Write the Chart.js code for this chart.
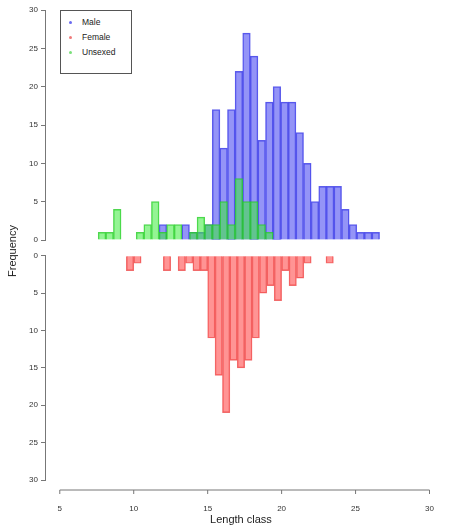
<!DOCTYPE html>
<html>
<head>
<meta charset="utf-8">
<script src="https://cdn.jsdelivr.net/npm/chart.js@4"></script>
<style>
  body { margin: 0; background: #fff; font-family: "Liberation Sans", Arial, sans-serif; }
  #wrap { position: relative; width: 450px; height: 531px; }
  #top { position: absolute; left: 0; top: 0; }
  #bot { position: absolute; left: 0; top: 248px; }
  #legend { position: absolute; left: 60px; top: 10px; width: 72px; height: 64px; border: 1px solid #555;
            font-size: 8.5px; color: #222; box-sizing: border-box; padding: 4px 0 0 8px; line-height: 15px; background: #fff; }
  #legend span { display: inline-block; width: 3px; height: 3px; border-radius: 2px; margin-right: 10px; vertical-align: middle; }
  #ylab { position: absolute; left: -18px; top: 245px; transform: rotate(-90deg); font-size: 11px; color: #222; width: 60px; text-align: center; }
</style>
</head>
<body>
<div id="wrap">
  <canvas id="top" width="450" height="248"></canvas>
  <canvas id="bot" width="450" height="283"></canvas>
  <div id="legend">
    <div><span style="background:#6a6af0"></span>Male</div>
    <div><span style="background:#f07a7a"></span>Female</div>
    <div><span style="background:#7ae07a"></span>Unsexed</div>
  </div>
  <div id="ylab">Frequency</div>
</div>
<script>
// Clases de longitud (centros de intervalos de 0.5, desde 7.5 hasta 26)
const clases = [];
for (let i = 0; i < 37; i++) clases.push(7.75 + 0.5 * i);

const machos   = [0,0,0,0,0,0,0,0,2,0,0,2,1,1,2,17,12,17,22,27,24,13,18,20,18,18,14,10,5,7,7,7,4,2,1,1,1];
const hembras  = [0,0,0,0,2,1,0,0,0,2,0,2,1,2,2,11,16,21,14,15,14,11,5,4,6,2,4,3,1,0,0,1,0,0,0,0,0];
const sinSexo  = [1,1,4,0,0,1,2,5,1,2,2,0,1,3,2,2,5,2,8,5,5,2,1,0,0,0,0,0,0,0,0,0,0,0,0,0,0];
const ticksX   = [5, 10, 15, 20, 25, 30];
const ticksY   = [0, 5, 10, 15, 20, 25, 30];

function serie(valores) {
    return clases.map((x, i) => ({ x: x, y: valores[i] }));
}

function dataset(label, valores, fondo, borde, orden) {
    return {
        label: label,
        data: serie(valores),
        backgroundColor: fondo,
        borderColor: borde,
        borderWidth: 0.8,
        barPercentage: 1,
        categoryPercentage: 1,
        grouped: false,
        order: orden
    };
}

const colorEje = '#777';
const fuente = { family: 'Liberation Sans', size: 8 };

function ejeY(reverse) {
    return {
        min: 0, max: 30, reverse: reverse,
        afterBuildTicks: s => { s.ticks = ticksY.map(v => ({ value: v })); },
        afterFit: s => { s.width = 45; },
        grid: { display: true, drawOnChartArea: false, drawTicks: true, tickLength: 4, tickColor: colorEje },
        border: { color: colorEje },
        ticks: { color: '#333', font: fuente, padding: 3 }
    };
}

function ejeX(visible) {
    return {
        type: 'linear', min: 4, max: 30.5, display: visible, offset: false,
        afterBuildTicks: s => { s.ticks = ticksX.map(v => ({ value: v })); },
        afterFit: s => { s.height = visible ? 51 : 0; },
        grid: { display: false },
        border: { display: false },
        ticks: { color: '#333', font: fuente, padding: 16 },
        title: { display: visible, text: 'Length class', color: '#222', font: { family: 'Liberation Sans', size: 11 }, padding: { top: 2 } }
    };
}

const comunes = {
    responsive: false,
    animation: false,
    plugins: { legend: { display: false }, tooltip: { enabled: false } }
};

new Chart(document.getElementById('top'), {
    type: 'bar',
    data: {
        datasets: [
            dataset('Male', machos, 'rgba(60,60,240,0.55)', 'rgba(60,60,230,0.8)', 1),
            dataset('Unsexed', sinSexo, 'rgba(60,235,60,0.55)', 'rgba(40,200,40,0.8)', 0)
        ]
    },
    options: Object.assign({}, comunes, {
        layout: { padding: { top: 10, bottom: 8, left: 0, right: 2 } },
        scales: { x: ejeX(false), y: ejeY(false) }
    })
});

// línea y marcas del eje x inferior estilo R (de 5 a 30)
const lineaEje = {
    id: 'lineaEje',
    afterDraw(chart) {
        const x = chart.scales.x, ctx = chart.ctx;
        const y = chart.chartArea.bottom + 10;
        ctx.save();
        ctx.strokeStyle = colorEje;
        ctx.lineWidth = 1;
        ctx.beginPath();
        ctx.moveTo(x.getPixelForValue(5), y);
        ctx.lineTo(x.getPixelForValue(30), y);
        ticksX.forEach(v => {
            const px = x.getPixelForValue(v);
            ctx.moveTo(px, y);
            ctx.lineTo(px, y + 4);
        });
        ctx.stroke();
        ctx.restore();
    }
};

new Chart(document.getElementById('bot'), {
    type: 'bar',
    data: {
        datasets: [
            dataset('Female', hembras, 'rgba(255,60,60,0.55)', 'rgba(235,80,80,0.8)', 0)
        ]
    },
    options: Object.assign({}, comunes, {
        layout: { padding: { top: 5, bottom: 0, left: 0, right: 2 } },
        scales: { x: ejeX(true), y: ejeY(true) }
    }),
    plugins: [lineaEje]
});
</script>
</body>
</html>
